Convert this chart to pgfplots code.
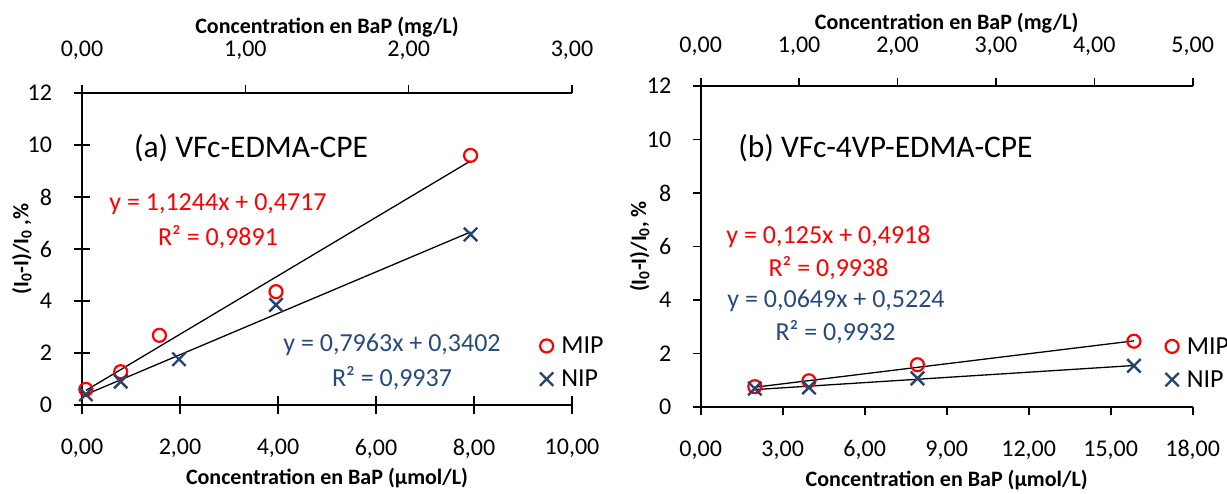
\documentclass[border=0pt]{standalone}
\usepackage{fontspec}
\setmainfont{Carlito}
\usepackage{pgfplots}
\pgfplotsset{compat=1.18}
\definecolor{mipred}{RGB}{255,0,0}
\definecolor{nipblue}{RGB}{37,68,110}
\definecolor{eqblue}{RGB}{38,74,125}

\pgfplotstableread{
x y
0.079 0.60
0.79 1.28
1.58 2.68
3.96 4.36
7.93 9.60
}\mipa
\pgfplotstableread{
x y
0.079 0.41
0.79 0.90
1.98 1.76
3.96 3.85
7.93 6.56
}\nipa
\pgfplotstableread{
x y
1.98 0.76
3.96 0.98
7.93 1.58
15.85 2.46
}\mipb
\pgfplotstableread{
x y
1.98 0.69
3.96 0.73
7.93 1.07
15.85 1.54
}\nipb

\newcommand{\tfont}{\fontsize{24}{28}\selectfont}
\pgfplotsset{
  base/.style={
    scale only axis,
    anchor=south west,
    font=\tfont,
    /pgf/number format/assume math mode=true,
    axis line style={line width=1.6pt},
    tick style={line width=1.6pt, black},
    clip=false,
    xticklabel style={font=\tfont, /pgf/number format/fixed, /pgf/number format/fixed zerofill,
      /pgf/number format/precision=2, /pgf/number format/use comma},
    yticklabel style={font=\tfont},
    scaled x ticks=false,
    label style={font=\bfseries\fontsize{22}{26}\selectfont},
    ylabel style={at={(0,0.5)}, anchor=center},
    legend style={draw=none, fill=none, anchor=west,
      font=\fontsize{26}{30}\selectfont, row sep=11pt},
    legend cell align=left,
  },
  bottomx/.style={
    axis x line*=bottom, axis y line*=left,
    xticklabel style={anchor=center, yshift=-35pt},
    xlabel style={at={(0.5,0)}, anchor=center, yshift=-73pt},
  },
  topx/.style={
    axis x line*=top, axis y line=none,
    tick align=outside, major tick length=8pt,
    xticklabel style={anchor=center, yshift=#1},
  },
}

\begin{document}
\begin{tikzpicture}[x=1pt,y=1pt]
\useasboundingbox (0,0) rectangle (1227,493);

% ---------- Panel (a) ----------
\begin{axis}[base, bottomx,
  at={(82pt,88pt)}, width=490pt, height=312pt,
  xmin=0, xmax=10, ymin=0, ymax=12,
  xtick={0,2,...,10}, ytick={0,2,...,12},
  tick align=center, major tick length=17pt,
  xlabel={Concentration en BaP (µmol/L)},
  ylabel={(I\textsubscript{0}-I)/I\textsubscript{0} ,\%},
  ylabel style={yshift=60pt},
  yticklabel shift=18pt,
  legend style={at={(0.928,0.136)}},
]
\addplot[mipred, only marks, mark=o, mark size=6.5pt, mark options={line width=2.2pt}] table {\mipa};
\addplot[nipblue, only marks, mark=x, mark size=9.5pt, mark options={line width=2.4pt}] table {\nipa};
\addplot[black, line width=1.3pt, forget plot] coordinates {(0.079,0.5605) (7.93,9.388)};
\addplot[black, line width=1.3pt, forget plot] coordinates {(0.079,0.4031) (7.93,6.655)};
\legend{\hspace{6pt}MIP,\hspace{6pt}NIP}
\end{axis}
\begin{axis}[base, topx=35pt,
  at={(82pt,88pt)}, width=490pt, height=312pt,
  xmin=0, xmax=3, ymin=0, ymax=12,
  xtick={0,1,2,3},
  xlabel={Concentration en BaP (mg/L)},
  xlabel style={at={(0.5,1)}, anchor=center, yshift=66pt},
]
\end{axis}

% ---------- Panel (b) ----------
\begin{axis}[base, bottomx,
  at={(700.7pt,86pt)}, width=492pt, height=321pt,
  xmin=0, xmax=18, ymin=0, ymax=12,
  xtick={0,3,...,18}, ytick={0,2,...,12},
  tick align=outside, major tick length=8pt,
  xlabel={Concentration en BaP (µmol/L)},
  ylabel={(I\textsubscript{0}-I)/I\textsubscript{0}, \%},
  ylabel style={yshift=61pt},
  yticklabel shift=18pt,
  legend style={at={(0.938,0.137)}},
]
\addplot[mipred, only marks, mark=o, mark size=6.5pt, mark options={line width=2.2pt}] table {\mipb};
\addplot[nipblue, only marks, mark=x, mark size=9.5pt, mark options={line width=2.4pt}] table {\nipb};
\addplot[black, line width=1.3pt, forget plot] coordinates {(1.98,0.739) (15.85,2.473)};
\addplot[black, line width=1.3pt, forget plot] coordinates {(1.98,0.651) (15.85,1.551)};
\legend{\hspace{6pt}MIP,\hspace{6pt}NIP}
\end{axis}
\begin{axis}[base, topx=32pt,
  at={(700.7pt,86pt)}, width=492pt, height=321pt,
  xmin=0, xmax=5, ymin=0, ymax=12,
  xtick={0,1,...,5},
  xlabel={Concentration en BaP (mg/L)},
  xlabel style={at={(0.5,1)}, anchor=center, yshift=63pt},
]
\end{axis}

% ---------- annotations ----------
\node[font=\fontsize{31.5}{36}\selectfont] at (251,345) {(a) VFc-EDMA-CPE};
\node[font=\fontsize{26}{30}\selectfont, text=mipred] at (218,289) {y = 1,1244x + 0,4717};
\node[font=\fontsize{26}{30}\selectfont, text=mipred] at (218,256) {R² = 0,9891};
\node[font=\fontsize{26}{30}\selectfont, text=eqblue] at (392,148) {y = 0,7963x + 0,3402};
\node[font=\fontsize{26}{30}\selectfont, text=eqblue] at (392,115) {R² = 0,9937};

\node[font=\fontsize{31.5}{36}\selectfont] at (885.5,345) {(b) VFc-4VP-EDMA-CPE};
\node[font=\fontsize{26}{30}\selectfont, text=mipred] at (828.5,256) {y = 0,125x + 0,4918};
\node[font=\fontsize{26}{30}\selectfont, text=mipred] at (828.5,225) {R² = 0,9938};
\node[font=\fontsize{26}{30}\selectfont, text=eqblue] at (836,192.3) {y = 0,0649x + 0,5224};
\node[font=\fontsize{26}{30}\selectfont, text=eqblue] at (835.5,161) {R² = 0,9932};
\end{tikzpicture}
\end{document}
